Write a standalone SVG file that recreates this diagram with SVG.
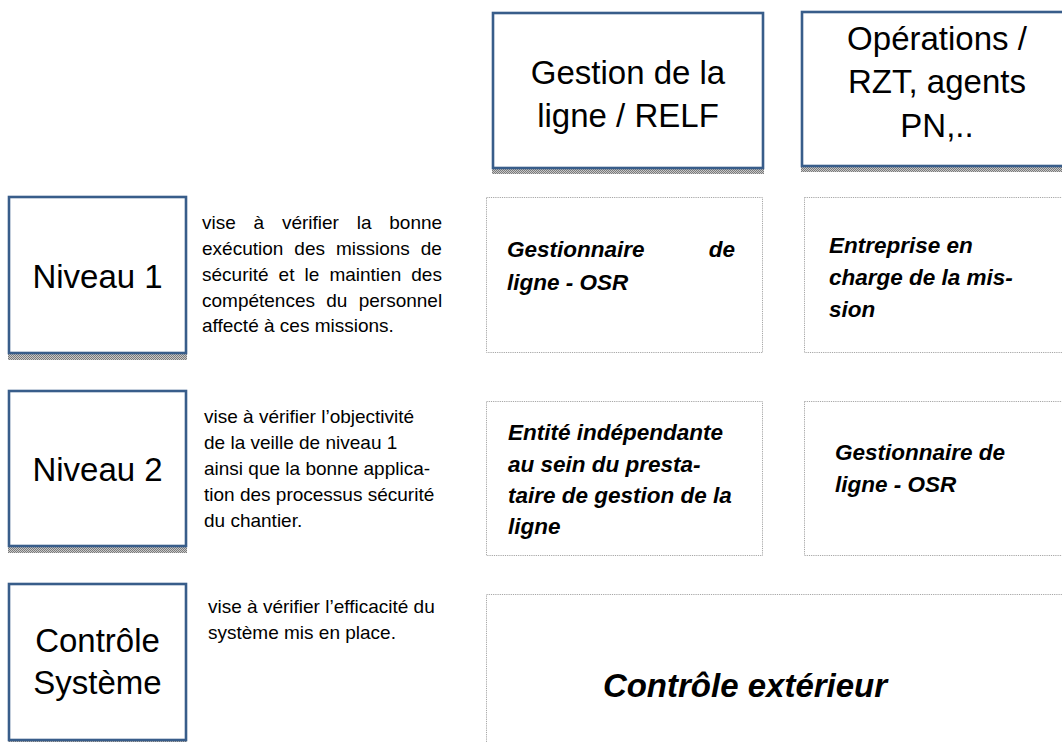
<svg xmlns="http://www.w3.org/2000/svg" width="1062" height="742" viewBox="0 0 1062 742">
<defs>
<pattern id="hatch" width="2" height="2" patternUnits="userSpaceOnUse">
<rect width="2" height="2" fill="#c8c8c8"/>
<rect width="1" height="1" fill="#7a7a7a"/>
<rect x="1" y="1" width="1" height="1" fill="#7a7a7a"/>
</pattern>
</defs>
<style>
.hbox{fill:#ffffff;stroke:#385D8A;stroke-width:2.6}
.shadow{fill:url(#hatch)}
.dbox{fill:#ffffff;stroke:#a6a6a6;stroke-width:1;stroke-dasharray:1.2 1}
.big{font-family:"Liberation Sans",Arial,sans-serif;font-size:33px;fill:#000;text-anchor:middle}
.desc{font-family:"Liberation Sans",Arial,sans-serif;font-size:19px;fill:#000}
.bi{font-family:"Liberation Sans",Arial,sans-serif;font-size:22.5px;font-weight:bold;font-style:italic;fill:#000}
.bigbi{font-family:"Liberation Sans",Arial,sans-serif;font-size:33px;font-weight:bold;font-style:italic;fill:#000;text-anchor:middle}
</style>
<rect width="1062" height="742" fill="#ffffff"/>
<g id="connectors"/>

<g id="header-gestion">
<rect class="shadow" x="492" y="168" width="272" height="6"/>
<rect class="hbox" x="493" y="13" width="270" height="155"/>
<text class="big" x="628" y="84">Gestion de la</text>
<text class="big" x="628" y="127">ligne / RELF</text>
</g>

<g id="header-operations">
<rect class="shadow" x="801" y="166" width="272" height="6"/>
<rect class="hbox" x="802" y="12" width="270" height="154"/>
<text class="big" x="937" y="50">Opérations /</text>
<text class="big" x="937" y="93">RZT, agents</text>
<text class="big" x="937" y="137">PN,..</text>
</g>

<g id="niveau1">
<rect class="shadow" x="8" y="353" width="179" height="7"/>
<rect class="hbox" x="9" y="197" width="177" height="156"/>
<text class="big" x="97.5" y="288">Niveau 1</text>
</g>
<g id="niveau1-desc">
<text class="desc" x="202" y="229" word-spacing="12.5">vise à vérifier la bonne</text>
<text class="desc" x="202" y="255" word-spacing="5.7">exécution des missions de</text>
<text class="desc" x="202" y="281" word-spacing="4.8">sécurité et le maintien des</text>
<text class="desc" x="202" y="307" word-spacing="6">compétences du personnel</text>
<text class="desc" x="202" y="332">affecté à ces missions.</text>
</g>

<g id="niveau2">
<rect class="shadow" x="8" y="546" width="179" height="7"/>
<rect class="hbox" x="9" y="391" width="177" height="155"/>
<text class="big" x="97.5" y="481">Niveau 2</text>
</g>
<g id="niveau2-desc">
<text class="desc" x="204" y="423">vise à vérifier l’objectivité</text>
<text class="desc" x="204" y="449">de la veille de niveau 1</text>
<text class="desc" x="204" y="475">ainsi que la bonne applica-</text>
<text class="desc" x="204" y="501">tion des processus sécurité</text>
<text class="desc" x="204" y="527">du chantier.</text>
</g>

<g id="controle-systeme">
<rect class="shadow" x="8" y="740" width="179" height="4"/>
<rect class="hbox" x="9" y="584" width="177" height="156"/>
<text class="big" x="97.5" y="652">Contrôle</text>
<text class="big" x="97.5" y="694">Système</text>
</g>
<g id="controle-systeme-desc">
<text class="desc" x="208" y="613">vise à vérifier l’efficacité du</text>
<text class="desc" x="208" y="639">système mis en place.</text>
</g>

<g id="n1-gestion">
<rect class="dbox" x="486.5" y="197.5" width="276" height="155"/>
<text class="bi" x="507" y="257">Gestionnaire</text>
<text class="bi" x="735" y="257" text-anchor="end">de</text>
<text class="bi" x="507" y="290">ligne - OSR</text>
</g>

<g id="n1-operations">
<rect class="dbox" x="804.5" y="197.5" width="280" height="155"/>
<text class="bi" x="829" y="253">Entreprise en</text>
<text class="bi" x="829" y="285">charge de la mis-</text>
<text class="bi" x="829" y="317">sion</text>
</g>

<g id="n2-gestion">
<rect class="dbox" x="486.5" y="401.5" width="276" height="154"/>
<text class="bi" x="508" y="440">Entité indépendante</text>
<text class="bi" x="508" y="472">au sein du presta-</text>
<text class="bi" x="508" y="503">taire de gestion de la</text>
<text class="bi" x="508" y="534">ligne</text>
</g>

<g id="n2-operations">
<rect class="dbox" x="804.5" y="401.5" width="280" height="154"/>
<text class="bi" x="835" y="460">Gestionnaire de</text>
<text class="bi" x="835" y="492">ligne - OSR</text>
</g>

<g id="controle-exterieur">
<rect class="dbox" x="486.5" y="594.5" width="600" height="170"/>
<text class="bigbi" x="745" y="697">Contrôle extérieur</text>
</g>
</svg>
